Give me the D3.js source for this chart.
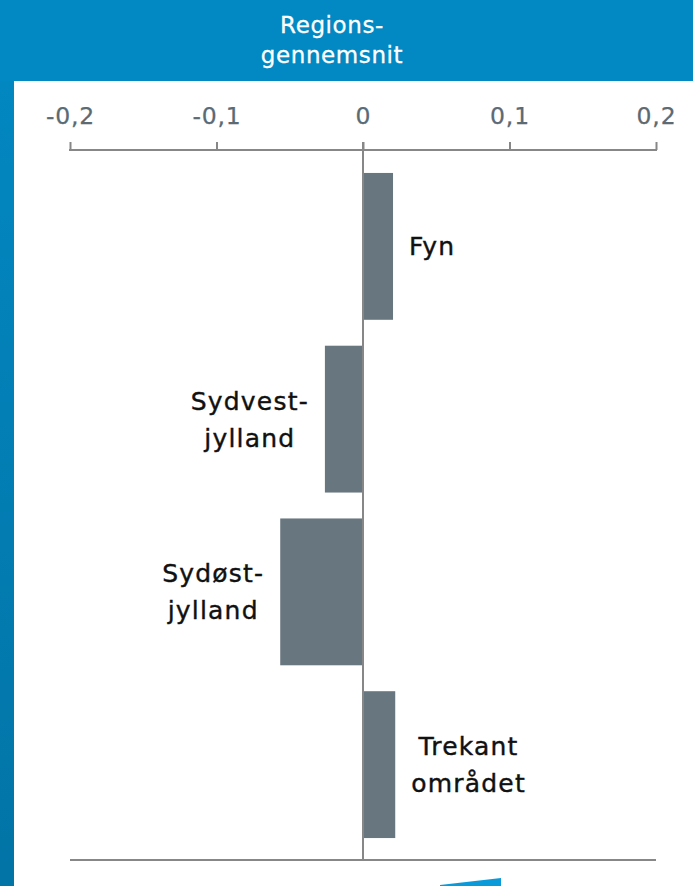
<!DOCTYPE html>
<html>
<head>
<meta charset="utf-8">
<script src="https://cdn.jsdelivr.net/npm/d3@7"></script>
<style>
  html, body { margin: 0; padding: 0; background: #ffffff; }
  svg { display: block; }
</style>
</head>
<body>
<svg id="chart" width="693" height="886"></svg>
<script>
// ---- data ----
const categories = ["Fyn", "Sydvestjylland", "Sydøstjylland", "Trekantområdet"];
const labelLines = [["Fyn"], ["Sydvest-", "jylland"], ["Sydøst-", "jylland"], ["Trekant", "området"]];
const values = [0.0205, -0.026, -0.0565, 0.022];
const tickValues = [-0.2, -0.1, 0, 0.1, 0.2];
const tickLabels = ["-0,2", "-0,1", "0", "0,1", "0,2"];
const titleLines = ["Regions-", "gennemsnit"];

const W = 693, H = 886;
const svg = d3.select("#chart");
const defs = svg.append("defs");
const grad = defs.append("linearGradient").attr("id", "stripGrad")
  .attr("x1", 0).attr("y1", 0).attr("x2", 0).attr("y2", 1);
grad.append("stop").attr("offset", "0%").attr("stop-color", "#0289c3");
grad.append("stop").attr("offset", "100%").attr("stop-color", "#0274a6");

// background frame
svg.append("rect").attr("x", 0).attr("y", 0).attr("width", W).attr("height", H).attr("fill", "#ffffff");
svg.append("rect").attr("x", 0).attr("y", 0).attr("width", 14).attr("height", H).attr("fill", "url(#stripGrad)");
svg.append("rect").attr("x", 0).attr("y", 0).attr("width", W).attr("height", 81).attr("fill", "#0289c3");

// title
const title = svg.append("text")
  .attr("y", 33)
  .attr("text-anchor", "middle")
  .attr("fill", "#ffffff")
  .attr("stroke", "#ffffff")
  .attr("stroke-width", 0.3)
  .style("font-family", "'DejaVu Sans', sans-serif")
  .style("font-size", "23px")
  .style("letter-spacing", "0.6px");
titleLines.forEach((t, i) => {
  title.append("tspan").attr("x", 332).attr("dy", i === 0 ? 0 : 30).text(t);
});

// scales
const x = d3.scaleLinear().domain([-0.2, 0.2]).range([70, 656]);
const y = d3.scaleBand().domain(categories).range([160, 851]).paddingInner(0.15).paddingOuter(0.075);

const axisColor = "#878787";

// top axis
const axis = d3.axisTop(x).tickValues(tickValues).tickSize(8).tickPadding(0).tickFormat(() => "");
const axG = svg.append("g").attr("transform", "translate(0,150)").call(axis);
axG.select(".domain").remove();
axG.selectAll(".tick line").attr("stroke", axisColor).attr("stroke-width", 2);
axG.append("line").attr("x1", x(-0.2) - 1).attr("x2", x(0.2) + 1).attr("y1", 0).attr("y2", 0)
  .attr("stroke", axisColor).attr("stroke-width", 2);

// tick labels
svg.append("g").selectAll("text").data(tickValues).join("text")
  .attr("x", d => x(d) + 0.5)
  .attr("y", 124)
  .attr("text-anchor", "middle")
  .attr("fill", "#5b6a73")
  .attr("stroke", "#5b6a73")
  .attr("stroke-width", 0.25)
  .style("font-family", "'DejaVu Sans', sans-serif")
  .style("font-size", "23.5px")
  .style("letter-spacing", "0.8px")
  .text((d, i) => tickLabels[i]);

// bars
svg.append("g").selectAll("rect").data(values).join("rect")
  .attr("x", d => d >= 0 ? x(0) : x(d))
  .attr("width", d => Math.abs(x(d) - x(0)))
  .attr("y", (d, i) => y(categories[i]))
  .attr("height", y.bandwidth())
  .attr("fill", "#68767f");

// zero line
svg.append("line").attr("x1", x(0)).attr("x2", x(0)).attr("y1", 142).attr("y2", 860)
  .attr("stroke", axisColor).attr("stroke-width", 2);

// bottom line
svg.append("line").attr("x1", x(-0.2)).attr("x2", x(0.2)).attr("y1", 860).attr("y2", 860)
  .attr("stroke", axisColor).attr("stroke-width", 2);

// labels
const lineH = 37;
values.forEach((v, i) => {
  const lines = labelLines[i];
  const cy = y(categories[i]) + y.bandwidth() / 2;
  const t = svg.append("text")
    .attr("text-anchor", "middle")
    .attr("fill", "#111111")
    .attr("stroke", "#111111")
    .attr("stroke-width", 0.4)
    .style("font-family", "'DejaVu Sans', sans-serif")
    .style("font-size", "25px")
    .style("letter-spacing", "1.2px");
  const y0 = cy - (lines.length - 1) * lineH / 2 + 9;
  const spans = lines.map((l, k) => t.append("tspan").attr("y", y0 + k * lineH).text(l));
  const maxW = d3.max(spans, s => s.node().getComputedTextLength());
  const gap = 16;
  const cx = v >= 0 ? x(v) + gap + maxW / 2 : x(v) - gap - maxW / 2;
  spans.forEach(s => s.attr("x", cx));
});

// bottom decorative swoosh
svg.append("path")
  .attr("d", "M440,886 L440,885 L501,878 L501,886 Z")
  .attr("fill", "#0b9ad9");
</script>
</body>
</html>
